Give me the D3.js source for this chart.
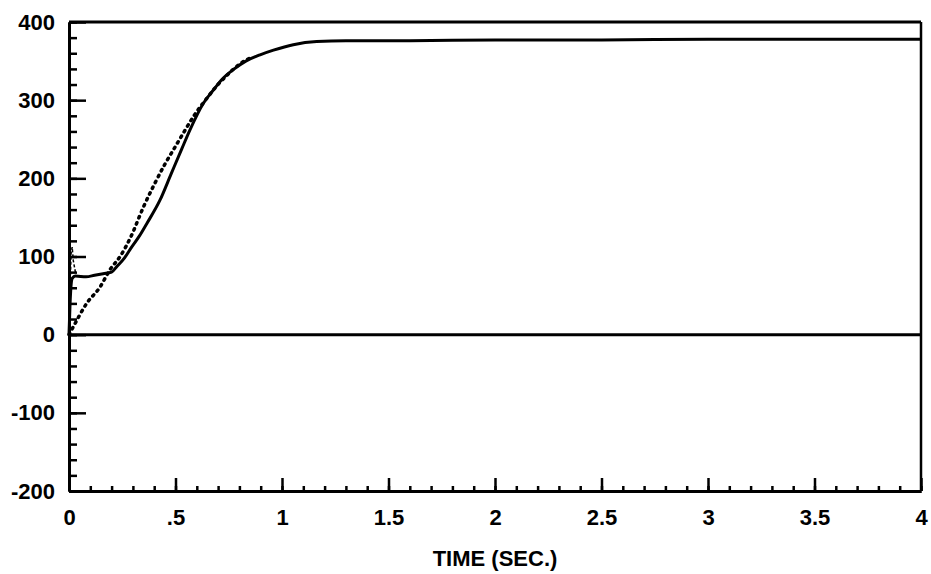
<!DOCTYPE html>
<html>
<head>
<meta charset="utf-8">
<script src="https://cdn.jsdelivr.net/npm/d3@7"></script>
<style>
  html, body { margin: 0; padding: 0; background: #fff; }
  svg text { font-family: "Liberation Sans", "DejaVu Sans", sans-serif; font-weight: bold; fill: #000; }
</style>
</head>
<body>
<svg id="chart" width="931" height="574"></svg>
<script>
// Measured response (solid trace)
const solidTime  = [0, 0.005, 0.015, 0.03, 0.08, 0.12, 0.16, 0.2, 0.224, 0.26, 0.294, 0.33, 0.365, 0.427, 0.48, 0.53, 0.568, 0.631, 0.678, 0.72, 0.771, 0.83, 0.897, 0.96, 1.053, 1.163, 1.3, 1.6, 2.0, 2.5, 3.0, 3.5, 4.0];
const solidValue = [0, 40, 72, 75, 74, 76, 78, 80, 87, 98, 112, 126, 142, 172, 206, 238, 262, 296, 313, 327, 339, 350, 358, 364, 371, 375, 376, 376, 377, 377, 378, 378, 378];

// Model response (dotted trace)
const dotTime  = [0, 0.02, 0.083, 0.146, 0.192, 0.24, 0.29, 0.349, 0.40, 0.45, 0.5, 0.537, 0.584, 0.646, 0.693, 0.75, 0.8, 0.85];
const dotValue = [0, 10, 40, 61, 83, 100, 125, 163, 192, 218, 241, 258, 279, 302, 318, 334, 346, 354];

// Initial transient spike
const spikeTime  = [0, 0.005, 0.01, 0.015, 0.02, 0.03];
const spikeValue = [0, 60, 105, 112, 95, 80];

// Reference levels
const levelTime  = [0, 4];
const zeroLevel  = [0, 0];
const topLevel   = [400, 400];

// Axis ticks
const xMajorTicks = [0, 0.5, 1, 1.5, 2, 2.5, 3, 3.5, 4];
const xTickLabels = ["0", ".5", "1", "1.5", "2", "2.5", "3", "3.5", "4"];
const xMinorTicks = d3.range(0, 41).map(i => i / 10);
const yMajorTicks = [-200, -100, 0, 100, 200, 300, 400];
const yMinorTicks = d3.range(-200, 401, 20);
const xTitle = "TIME (SEC.)";

const svg = d3.select("#chart");
const plotLeft = 69, plotRight = 921, plotTop = 22, plotBottom = 491;

const x = d3.scaleLinear().domain([0, 4]).range([plotLeft, plotRight]);
const y = d3.scaleLinear().domain([-200, 400]).range([plotBottom, plotTop]);

const axisStyle = g => {
  g.select(".domain").attr("stroke", "#000").attr("stroke-width", 3);
  g.selectAll(".tick line").attr("stroke", "#000").attr("stroke-width", 2.5);
  g.selectAll("text").style("font-size", "22px").attr("fill", "#000");
};

// Left axis: minor then major ticks pointing inward
svg.append("g").attr("transform", `translate(${plotLeft},0)`)
  .call(d3.axisLeft(y).tickValues(yMinorTicks).tickSize(-8).tickSizeOuter(0).tickFormat(""))
  .call(axisStyle);
svg.append("g").attr("transform", `translate(${plotLeft},0)`)
  .call(d3.axisLeft(y).tickValues(yMajorTicks).tickSize(-17).tickSizeOuter(0).tickPadding(14).tickFormat(d => String(d)))
  .call(axisStyle);

// Bottom axis
svg.append("g").attr("transform", `translate(0,${plotBottom})`)
  .call(d3.axisBottom(x).tickValues(xMinorTicks).tickSize(-5).tickSizeOuter(0).tickFormat(""))
  .call(axisStyle);
svg.append("g").attr("transform", `translate(0,${plotBottom})`)
  .call(d3.axisBottom(x).tickValues(xMajorTicks).tickSize(-13).tickSizeOuter(0).tickPadding(18)
        .tickFormat((d, i) => xTickLabels[i]))
  .call(axisStyle);

// Right border
svg.append("line")
  .attr("x1", x(4)).attr("x2", x(4)).attr("y1", y(400)).attr("y2", y(-200))
  .attr("stroke", "#000").attr("stroke-width", 2.5);

const line = d3.line().x(d => x(d[0])).y(d => y(d[1]));
const smooth = d3.line().x(d => x(d[0])).y(d => y(d[1])).curve(d3.curveMonotoneX);
const zip = (a, b) => a.map((v, i) => [v, b[i]]);

// Top level and zero level
svg.append("path").datum(zip(levelTime, topLevel)).attr("d", line)
  .attr("fill", "none").attr("stroke", "#000").attr("stroke-width", 3);
svg.append("path").datum(zip(levelTime, zeroLevel)).attr("d", line)
  .attr("fill", "none").attr("stroke", "#000").attr("stroke-width", 3);

// Transient spike
svg.append("path").datum(zip(spikeTime, spikeValue)).attr("d", line)
  .attr("fill", "none").attr("stroke", "#000").attr("stroke-width", 1.5)
  .attr("stroke-dasharray", "3,2");

// Dotted trace
svg.append("path").datum(zip(dotTime, dotValue)).attr("d", smooth)
  .attr("fill", "none").attr("stroke", "#000").attr("stroke-width", 3.5)
  .attr("stroke-linecap", "round").attr("stroke-dasharray", "1.5,5");

// Solid trace
svg.append("path").datum(zip(solidTime, solidValue)).attr("d", smooth)
  .attr("fill", "none").attr("stroke", "#000").attr("stroke-width", 3)
  .attr("stroke-linejoin", "round");

// Axis title
svg.append("text")
  .attr("x", x(2)).attr("y", 566)
  .attr("text-anchor", "middle")
  .style("font-size", "22px")
  .text(xTitle);
</script>
</body>
</html>
